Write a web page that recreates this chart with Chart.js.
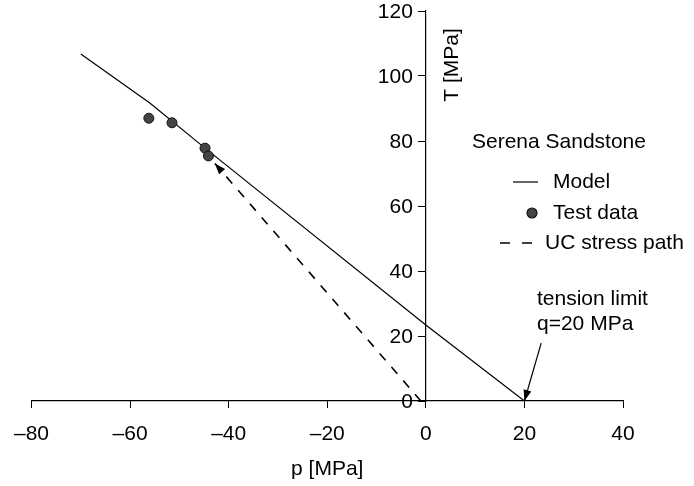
<!DOCTYPE html>
<html>
<head>
<meta charset="utf-8">
<script src="https://cdn.jsdelivr.net/npm/chart.js@4.4.1/dist/chart.umd.min.js"></script>
<style>
    body { margin: 0; background: #fff; }
    canvas { display: block; }
</style>
</head>
<body>
<canvas id="serenaChart" width="694" height="486"></canvas>
<script>
// Model failure line (p, T)
var modelP = [-70, -56, -44.8, 0, 20];
var modelT = [106.8, 91.7, 77.8, 23.4, 0];

// Test data points
var testP = [-56.2, -51.5, -44.8, -44.1];
var testT = [87.0, 85.6, 77.8, 75.4];

// UC stress path (from origin toward the data)
var pathP = [-1, -42.8];
var pathT = [0, 73.1];

// tension limit arrow: label anchor -> tip
var tensionP = [23.4, 20];
var tensionT = [17.8, 0];

var xTicks = [-80, -60, -40, -20, 0, 20, 40];
var yTicks = [0, 20, 40, 60, 80, 100, 120];

var FONT = '"Liberation Sans", Arial, sans-serif';
var FSIZE = 21;

function toPoints(xs, ys) {
    return xs.map(function (x, i) { return { x: x, y: ys[i] }; });
}

function arrowHead(ctx, x0, y0, x1, y1, len, half) {
    var a = Math.atan2(y1 - y0, x1 - x0);
    ctx.beginPath();
    ctx.moveTo(x1, y1);
    ctx.lineTo(x1 - len * Math.cos(a) + half * Math.sin(a), y1 - len * Math.sin(a) - half * Math.cos(a));
    ctx.lineTo(x1 - len * Math.cos(a) - half * Math.sin(a), y1 - len * Math.sin(a) + half * Math.cos(a));
    ctx.closePath();
    ctx.fill();
}

// draws y tick labels, arrows, legend, y title and the tension note
var extras = {
    id: 'extras',
    afterDraw: function (chart) {
        var ctx = chart.ctx;
        var xs = chart.scales.x, ys = chart.scales.y;
        var axisX = xs.getPixelForValue(0);
        ctx.save();
        ctx.fillStyle = '#000';
        ctx.strokeStyle = '#000';
        ctx.font = FSIZE + 'px ' + FONT;

        // y tick labels left of the centred axis
        ctx.textAlign = 'right';
        ctx.textBaseline = 'middle';
        yTicks.forEach(function (v) {
            ctx.fillText(String(v), axisX - 13, ys.getPixelForValue(v) + 1);
        });

        // arrowhead on UC stress path
        var n = pathP.length;
        arrowHead(ctx,
            xs.getPixelForValue(pathP[n - 2]), ys.getPixelForValue(pathT[n - 2]),
            xs.getPixelForValue(pathP[n - 1]), ys.getPixelForValue(pathT[n - 1]), 11, 4);

        // tension limit arrow
        var tx0 = xs.getPixelForValue(tensionP[0]), ty0 = ys.getPixelForValue(tensionT[0]);
        var tx1 = xs.getPixelForValue(tensionP[1]), ty1 = ys.getPixelForValue(tensionT[1]);
        ctx.lineWidth = 1.2;
        ctx.beginPath();
        ctx.moveTo(tx0, ty0);
        ctx.lineTo(tx1, ty1);
        ctx.stroke();
        arrowHead(ctx, tx0, ty0, tx1, ty1, 11, 4);

        ctx.textAlign = 'left';
        ctx.fillText('tension limit', 537, 299);
        ctx.fillText('q=20 MPa', 537, 324);

        // legend
        ctx.fillText('Serena Sandstone', 472, 142);
        ctx.lineWidth = 1.2;
        ctx.beginPath();
        ctx.moveTo(513, 182); ctx.lineTo(538, 182);
        ctx.stroke();
        ctx.fillText('Model', 553, 182);

        ctx.beginPath();
        ctx.arc(532, 213, 5, 0, Math.PI * 2);
        ctx.fillStyle = '#444';
        ctx.fill();
        ctx.strokeStyle = '#111';
        ctx.stroke();
        ctx.fillStyle = '#000';
        ctx.fillText('Test data', 553, 213);

        ctx.strokeStyle = '#000';
        ctx.lineWidth = 1.6;
        ctx.beginPath();
        ctx.moveTo(500, 243); ctx.lineTo(510, 243);
        ctx.moveTo(522, 243); ctx.lineTo(532, 243);
        ctx.stroke();
        ctx.fillText('UC stress path', 545, 243);

        // y axis title, right of the axis
        ctx.translate(452, 65);
        ctx.rotate(-Math.PI / 2);
        ctx.textAlign = 'center';
        ctx.fillText('T [MPa]', 0, 0);
        ctx.restore();
    }
};

var ctx = document.getElementById('serenaChart').getContext('2d');
var serenaChart = new Chart(ctx, {
    type: 'scatter',
    data: {
        datasets: [{
            label: 'Model',
            data: toPoints(modelP, modelT),
            showLine: true,
            borderColor: '#000',
            borderWidth: 1.2,
            pointRadius: 0,
            order: 2
        }, {
            label: 'Test data',
            data: toPoints(testP, testT),
            showLine: false,
            pointRadius: 5,
            pointBackgroundColor: '#444',
            pointBorderColor: '#111',
            pointBorderWidth: 1,
            order: 1
        }, {
            label: 'UC stress path',
            data: toPoints(pathP, pathT),
            showLine: true,
            borderColor: '#000',
            borderWidth: 1.6,
            borderDash: [9, 9],
            pointRadius: 0,
            order: 3
        }]
    },
    options: {
        responsive: false,
        animation: false,
        layout: {
            padding: { top: 11, left: 30, right: 71, bottom: 0 }
        },
        plugins: {
            legend: { display: false },
            tooltip: { enabled: false }
        },
        scales: {
            x: {
                type: 'linear',
                min: -80,
                max: 40,
                position: 'bottom',
                afterBuildTicks: function (scale) {
                    scale.ticks = xTicks.map(function (v) { return { value: v }; });
                },
                afterFit: function (scale) { scale.height = 85; },
                ticks: {
                    color: '#000',
                    font: { size: FSIZE, family: FONT },
                    padding: 14,
                    maxRotation: 0,
                    callback: function (v) { return String(v).replace('-', '\u2013'); }
                },
                grid: {
                    drawOnChartArea: false,
                    drawTicks: true,
                    tickLength: 7,
                    color: '#000'
                },
                border: { color: '#000', width: 1.2 },
                title: {
                    display: true,
                    text: 'p [MPa]',
                    color: '#000',
                    font: { size: FSIZE, family: FONT },
                    padding: { top: 8, bottom: 4 }
                }
            },
            y: {
                type: 'linear',
                min: 0,
                max: 120,
                position: { x: 0 },
                afterBuildTicks: function (scale) {
                    scale.ticks = yTicks.map(function (v) { return { value: v }; });
                },
                ticks: { display: false },
                grid: {
                    drawOnChartArea: false,
                    drawTicks: true,
                    tickLength: 7,
                    color: '#000'
                },
                border: { color: '#000', width: 1.2 }
            }
        }
    },
    plugins: [extras]
});
</script>
</body>
</html>
